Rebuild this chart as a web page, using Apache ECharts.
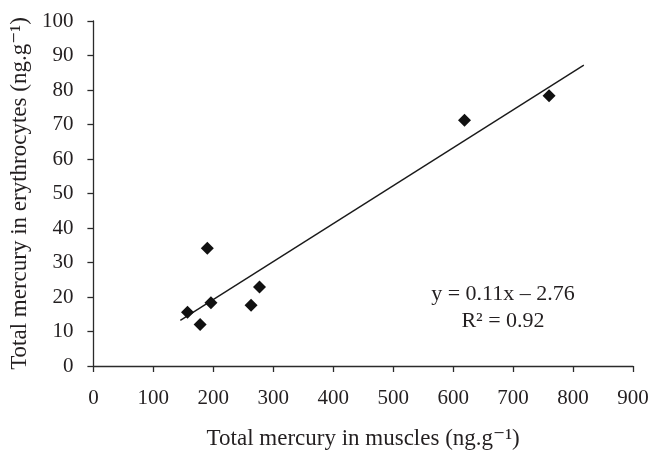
<!DOCTYPE html>
<html>
<head>
<meta charset="utf-8">
<script src="https://cdn.jsdelivr.net/npm/echarts@6/dist/echarts.min.js"></script>
<style>
html, body { margin: 0; padding: 0; background: #fff; }
#main { width: 652px; height: 455px; }
</style>
</head>
<body>
<div id="main"></div>
<script>
// measured points (muscles, erythrocytes)
var muscleHg = [157, 178, 190, 196, 263, 277, 619, 760];
var erythHg = [15.6, 12.0, 34.1, 18.3, 17.6, 22.9, 71.2, 78.3];
// trend line ends as drawn
var trendX = [145, 818];
var trendY = [13.2, 87.2];
var eqText = 'y = 0.11x \u2013 2.76';
var r2Text = 'R\u00b2 = 0.92';

var pts = [];
for (var i = 0; i < muscleHg.length; i++) {
	pts.push([muscleHg[i], erythHg[i]]);
}
var trend = [];
for (var k = 0; k < trendX.length; k++) {
	trend.push([trendX[k], trendY[k]]);
}

var font = '"Liberation Serif", "DejaVu Serif", serif';
var axisCol = '#2b2b2b';
var txtCol = '#231f20';

var chart = echarts.init(document.getElementById('main'));
var option = {
	animation: false,
	backgroundColor: '#fff',
	textStyle: { fontFamily: font },
	grid: { left: 93, right: 19, top: 21, bottom: 85, containLabel: false },
	xAxis: {
		type: 'value',
		min: 0, max: 900, interval: 100,
		name: 'Total mercury in muscles (ng.g\u207b\u00b9)',
		nameLocation: 'middle',
		nameGap: 61,
		nameTextStyle: { fontFamily: font, fontSize: 23, color: txtCol },
		axisLine: { show: true, lineStyle: { color: axisCol, width: 1.3 } },
		axisTick: { show: true, inside: false, length: 6, lineStyle: { color: axisCol, width: 1.3 } },
		axisLabel: { fontFamily: font, fontSize: 21, color: txtCol, margin: 22 },
		splitLine: { show: false }
	},
	yAxis: {
		type: 'value',
		min: 0, max: 100, interval: 10,
		name: 'Total mercury in erythrocytes (ng.g\u207b\u00b9)',
		nameLocation: 'middle',
		nameGap: 59,
		nameTextStyle: { fontFamily: font, fontSize: 23, color: txtCol },
		axisLine: { show: true, lineStyle: { color: axisCol, width: 1.3 } },
		axisTick: { show: true, inside: false, length: 6, lineStyle: { color: axisCol, width: 1.3 } },
		axisLabel: { fontFamily: font, fontSize: 21, color: txtCol, margin: 20 },
		splitLine: { show: false }
	},
	series: [
		{
			type: 'line',
			data: trend,
			symbol: 'none',
			lineStyle: { color: '#1a1a1a', width: 1.4 },
			z: 2
		},
		{
			type: 'scatter',
			data: pts,
			symbol: 'diamond',
			symbolSize: [13, 13],
			itemStyle: { color: '#111', opacity: 1 },
			z: 3
		}
	],
	graphic: [
		{
			type: 'text',
			x: 503, y: 294,
			style: { text: eqText, font: '22px ' + font, fill: txtCol, align: 'center', verticalAlign: 'middle' }
		},
		{
			type: 'text',
			x: 503, y: 321,
			style: { text: r2Text, font: '22px ' + font, fill: txtCol, align: 'center', verticalAlign: 'middle' }
		}
	]
};
chart.setOption(option);
</script>
</body>
</html>
